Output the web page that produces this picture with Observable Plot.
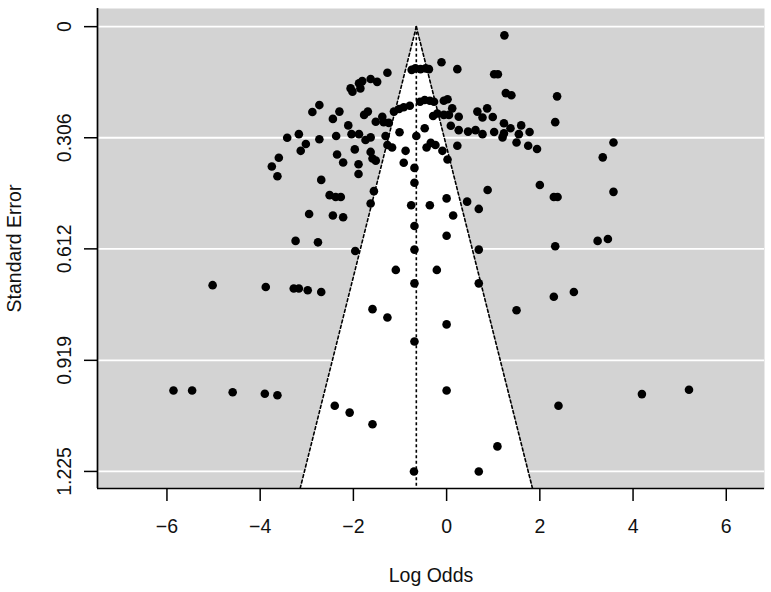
<!DOCTYPE html>
<html>
<head>
<meta charset="utf-8">
<script src="https://cdn.jsdelivr.net/npm/d3@7"></script>
<script src="https://cdn.jsdelivr.net/npm/@observablehq/plot@0.6"></script>
<style>
  html, body { margin: 0; padding: 0; background: #fff; }
  #chart svg { display: block; }
</style>
</head>
<body>
<div id="chart"></div>
<script>
// Observed log odds for each study
const logOdds = [
  1.24, 1.02, 1.10, 1.27, 1.39, 2.37, 2.33, 0.66, 0.87, 0.77,
  0.99, 1.23, 1.37, 1.60, 0.46, 0.62, 0.77, 1.02, 1.23, 1.20,
  1.55, 1.78, 1.50, 1.75, 1.94, 3.35, 3.58, 2.00, 2.30, 2.38,
  0.88, 0.44, 0.69, 3.58, 2.33, 3.24, 3.46, 2.30, 2.73, 1.50,
  5.20, 2.40, 4.19, -3.90, -3.63, -2.40, -2.08, -1.59, 0.00, 1.09,
  -0.70, 0.69, -5.86, -5.46, -4.59, -5.02, -2.51, -2.38, -2.27, -1.56,
  -1.63, -0.76, -0.36, 0.00, -2.95, -2.44, -2.22, -0.69, 0.14, 0.00,
  -3.24, -2.76, -1.96, -0.69, 0.69, -1.09, -0.21, -3.88, -3.28, -3.17,
  -2.98, -2.69, -0.69, 0.69, -1.59, -1.27, 0.00, -0.69, -2.73, -2.88,
  -2.30, -2.44, -3.42, -3.17, -3.02, -3.13, -2.73, -2.37, -3.60, -3.75,
  -3.63, -2.69, -2.35, -2.22, -1.27, -2.06, -2.02, -1.88, -1.81, -1.85,
  -1.63, -1.49, -0.75, -0.67, -0.56, -0.45, -0.38, -0.11, 0.23, -2.11,
  -1.77, -1.69, -1.52, -1.38, -1.24, -1.35, -1.13, -1.02, -0.92, -0.79,
  -0.57, -0.47, -0.36, -0.27, -0.06, 0.02, -0.29, -0.20, -0.06, 0.05,
  0.12, 0.26, 0.09, 0.26, -2.04, -1.88, -1.97, -1.89, -1.89, -1.74,
  -1.63, -1.63, -1.59, -1.52, -1.31, -1.27, -1.17, -1.01, -0.88, -0.92,
  -0.65, -0.69, -0.69, -0.47, -0.43, -0.34, -0.24, -0.09, 0.02, 0.23
];
// Standard error for each study
const stdErr = [
  0.024, 0.131, 0.131, 0.183, 0.189, 0.192, 0.263, 0.234, 0.225, 0.250,
  0.249, 0.266, 0.280, 0.272, 0.289, 0.285, 0.296, 0.290, 0.294, 0.305,
  0.296, 0.290, 0.319, 0.328, 0.337, 0.360, 0.319, 0.436, 0.469, 0.469,
  0.450, 0.482, 0.502, 0.455, 0.605, 0.590, 0.585, 0.744, 0.731, 0.781,
  1.000, 1.044, 1.012, 1.011, 1.015, 1.044, 1.063, 1.095, 1.002, 1.156,
  1.225, 1.225, 1.002, 1.002, 1.007, 0.712, 0.464, 0.469, 0.469, 0.453,
  0.487, 0.492, 0.492, 0.473, 0.516, 0.520, 0.525, 0.549, 0.520, 0.576,
  0.590, 0.594, 0.618, 0.614, 0.614, 0.670, 0.670, 0.717, 0.721, 0.721,
  0.726, 0.731, 0.707, 0.707, 0.778, 0.801, 0.820, 0.867, 0.216, 0.235,
  0.234, 0.254, 0.306, 0.296, 0.323, 0.342, 0.310, 0.301, 0.361, 0.385,
  0.412, 0.422, 0.352, 0.374, 0.127, 0.170, 0.179, 0.156, 0.150, 0.170,
  0.144, 0.152, 0.119, 0.115, 0.117, 0.115, 0.117, 0.098, 0.117, 0.272,
  0.243, 0.234, 0.262, 0.248, 0.265, 0.263, 0.234, 0.227, 0.222, 0.218,
  0.207, 0.202, 0.204, 0.207, 0.204, 0.200, 0.246, 0.239, 0.243, 0.243,
  0.225, 0.248, 0.273, 0.285, 0.296, 0.296, 0.338, 0.379, 0.406, 0.312,
  0.305, 0.345, 0.363, 0.369, 0.301, 0.326, 0.333, 0.291, 0.342, 0.375,
  0.301, 0.389, 0.430, 0.280, 0.333, 0.320, 0.326, 0.342, 0.366, 0.328
];

// Pooled estimate (funnel centre) and axis ticks
const pooledEstimate = -0.65;
const xTicks = [-6, -4, -2, 0, 2, 4, 6];
const seTicks = [0, 0.306, 0.612, 0.919, 1.225];
const seTickLabels = ["0", "0.306", "0.612", "0.919", "1.225"];
const xLabel = "Log Odds";
const yLabel = "Standard Error";

const xDomain = [-7.49, 6.82];
const yDomain = [-0.05, 1.272];
const z = 1.96;

const points = logOdds.map((x, i) => ({x, se: stdErr[i]}));
const funnel = [
  {se: 0, lo: pooledEstimate, hi: pooledEstimate},
  {se: yDomain[1], lo: pooledEstimate - z * yDomain[1], hi: pooledEstimate + z * yDomain[1]}
];
const tickText = seTicks.map((v, i) => ({v, label: seTickLabels[i]}));

const font = "'Liberation Sans', Arial, sans-serif";
const fs = 19.5;
const ink = "#111";

const chart = Plot.plot({
  width: 771,
  height: 592,
  marginLeft: 97,
  marginRight: 7,
  marginTop: 8,
  marginBottom: 104,
  style: {fontFamily: font, background: "#fff", color: ink},
  x: {domain: xDomain},
  y: {domain: yDomain, reverse: true},
  marks: [
    Plot.frame({fill: "#d3d3d3", stroke: null}),
    Plot.ruleY(seTicks, {stroke: "white", strokeWidth: 1.8}),
    Plot.areaX(funnel, {y: "se", x1: "lo", x2: "hi", fill: "white"}),
    Plot.line(funnel, {x: "lo", y: "se", stroke: "black", strokeWidth: 1.6, strokeDasharray: "3,2.5"}),
    Plot.line(funnel, {x: "hi", y: "se", stroke: "black", strokeWidth: 1.6, strokeDasharray: "3,2.5"}),
    Plot.ruleX([pooledEstimate], {y1: 0, y2: yDomain[1], stroke: "black", strokeWidth: 1.6, strokeDasharray: "3,2.5"}),
    Plot.dot(points, {x: "x", y: "se", r: 4.3, fill: "black", stroke: null}),
    Plot.ruleY([yDomain[1]], {stroke: "black", strokeWidth: 1.7}),
    Plot.ruleX([xDomain[0]], {stroke: "black", strokeWidth: 1.7}),
    Plot.axisX({ticks: xTicks, tickSize: 13, tickPadding: 18, fontSize: fs, label: null, stroke: "black", strokeWidth: 1.5, fill: ink}),
    Plot.axisY({ticks: seTicks, tickSize: 13, tickFormat: () => "", label: null, stroke: "black", strokeWidth: 1.5}),
    Plot.text(tickText, {y: "v", text: "label", frameAnchor: "left", dx: -27, rotate: -90, textAnchor: "middle", lineAnchor: "bottom", fontSize: fs, fill: ink}),
    Plot.text([xLabel], {frameAnchor: "bottom", dy: 93, lineAnchor: "bottom", fontSize: fs, fill: ink}),
    Plot.text([yLabel], {frameAnchor: "left", dx: -77, rotate: -90, textAnchor: "middle", lineAnchor: "bottom", fontSize: fs, fill: ink})
  ]
});
document.getElementById("chart").appendChild(chart);
</script>
</body>
</html>
